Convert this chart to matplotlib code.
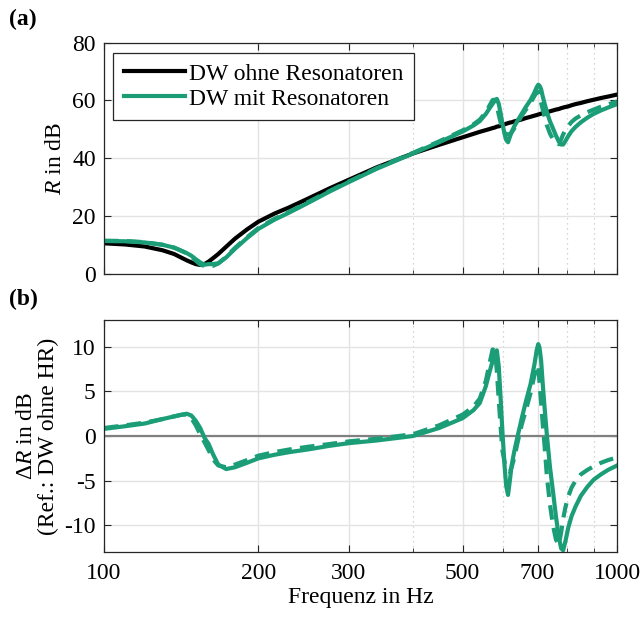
import numpy as np
import matplotlib
matplotlib.use("Agg")
import matplotlib.pyplot as plt
from matplotlib.ticker import FixedLocator, NullFormatter

plt.rcParams['font.family'] = ['Liberation Serif', 'DejaVu Serif']
plt.rcParams['mathtext.fontset'] = 'custom'
plt.rcParams['mathtext.rm'] = 'Liberation Serif'
plt.rcParams['mathtext.it'] = 'Liberation Serif:italic'
plt.rcParams['axes.unicode_minus'] = False

# frequency grid (Hz)
freq = [100, 110, 120, 130, 137, 142, 145, 148, 151, 154, 157, 160, 163, 167, 173, 180,
        190, 200, 215, 230, 250, 275, 300, 340, 400, 450, 500, 525, 540, 555, 565, 572,
        578, 583, 588, 593, 598, 604, 608, 613, 618, 623, 630, 640, 652, 665, 678, 690,
        697, 702, 706, 711, 716, 722, 730, 740, 750, 760, 770, 778, 785, 793, 803, 815,
        830, 850, 875, 900, 930, 960, 1000]

# R of the double wall without resonators (dB)
r_ohne = [10.5, 10.1, 9.4, 8.1, 6.8, 5.4, 4.6, 3.9, 3.3, 3.0, 3.3, 4.2, 5.3, 6.8, 9.3, 12.1,
          15.3, 18.0, 20.8, 23.0, 26.0, 29.5, 32.5, 36.8, 41.6, 44.6, 47.2, 48.4, 49.1, 49.7, 50.1, 50.4,
          50.6, 50.9, 51.0, 51.3, 51.5, 51.7, 51.9, 52.1, 52.3, 52.4, 52.7, 53.0, 53.4, 53.9, 54.3, 54.7,
          54.9, 55.1, 55.2, 55.4, 55.5, 55.7, 55.9, 56.2, 56.5, 56.8, 57.0, 57.3, 57.5, 57.7, 57.9, 58.3,
          58.7, 59.1, 59.7, 60.2, 60.8, 61.3, 62.0]

# Delta R with resonators, solid variant (dB)
dr_solid = [0.8, 1.1, 1.4, 1.9, 2.2, 2.4, 2.5, 2.3, 1.7, 0.9, -0.2, -0.9, -2.0, -3.2, -3.7, -3.5,
            -3.0, -2.5, -2.1, -1.8, -1.5, -1.1, -0.8, -0.5, 0.0, 0.9, 2.0, 2.9, 3.7, 5.6, 7.3, 8.4,
            9.3, 9.6, 7.8, 4.2, 0.3, -3.6, -5.6, -6.6, -5.0, -3.3, -1.8, 0.0, 2.0, 4.0, 5.8, 8.0,
            9.6, 10.3, 9.9, 8.5, 6.0, 3.3, 0.0, -3.5, -6.2, -9.0, -11.3, -12.6, -12.8, -11.8, -10.3, -9.0,
            -7.9, -6.7, -5.7, -4.9, -4.3, -3.8, -3.3]

# Delta R with resonators, dashed variant (dB)
dr_dashed = [0.9, 1.2, 1.5, 1.9, 2.2, 2.4, 2.4, 2.0, 1.2, 0.2, -0.7, -1.6, -2.6, -3.3, -3.5, -3.2,
             -2.7, -2.2, -1.8, -1.5, -1.2, -0.9, -0.6, -0.3, 0.2, 1.2, 2.4, 3.3, 4.2, 6.2, 8.3, 9.7,
             9.6, 7.3, 4.0, 1.0, -1.7, -3.0, -3.6, -3.9, -4.0, -3.5, -2.5, -0.7, 1.3, 3.0, 4.8, 6.8,
             7.8, 7.9, 6.0, 3.8, 1.5, -1.0, -4.6, -7.7, -10.0, -11.6, -12.2, -10.8, -9.3, -8.0, -6.8, -5.8,
             -5.0, -4.3, -3.8, -3.4, -3.0, -2.7, -2.4]

xticks = [100, 200, 300, 500, 700, 1000]
xminor = [400, 600, 800, 900]

f = np.array(freq)
r0 = np.array(r_ohne)
r_mit = r0 + np.array(dr_solid)
r_mit2 = r0 + np.array(dr_dashed)

green = '#1b9e77'
fs = 17

fig = plt.figure(figsize=(6.43, 6.17), dpi=100)
ax1 = fig.add_axes([0.1617, 0.5565, 0.798, 0.3745])
ax2 = fig.add_axes([0.1617, 0.1053, 0.798, 0.376])


def style(ax):
    ax.set_xscale('log')
    ax.set_xlim(100, 1000)
    ax.xaxis.set_major_locator(FixedLocator(xticks))
    ax.xaxis.set_minor_locator(FixedLocator(xminor))
    ax.xaxis.set_minor_formatter(NullFormatter())
    ax.grid(True, which='major', color='#e3e3e3', lw=1)
    ax.grid(True, which='minor', axis='x', color='#c8c8c8', lw=0.9, ls=(0, (1, 3)))
    ax.set_axisbelow(True)
    ax.tick_params(which='both', direction='in', top=True, right=True,
                   labelsize=fs, colors='#262626', labelcolor='black')
    ax.tick_params(which='major', length=5)
    ax.tick_params(which='minor', length=3)
    ax.tick_params(axis='y', pad=6)
    for s in ax.spines.values():
        s.set_color('#262626')
        s.set_linewidth(0.9)


style(ax1)
ax1.plot(f, r0, color='black', lw=3, label='DW ohne Resonatoren')
ax1.plot(f, r_mit2, color=green, lw=3, ls=(0, (3.5, 2)))
ax1.plot(f, r_mit, color=green, lw=3, label='DW mit Resonatoren')
ax1.set_ylim(0, 80)
ax1.set_yticks([0, 20, 40, 60, 80])
ax1.set_xticklabels([])
ax1.set_ylabel('$R$ in dB', fontsize=fs, labelpad=4)
leg = ax1.legend(loc='upper left', fontsize=fs, handlelength=2.6, handletextpad=0.15,
                 borderpad=0.45, labelspacing=0.15, fancybox=False, framealpha=1,
                 edgecolor='#262626', borderaxespad=0, bbox_to_anchor=(0.0175, 0.957))
leg.get_frame().set_linewidth(0.9)

style(ax2)
ax2.axhline(0, color='#808080', lw=1.6, zorder=1.5)
ax2.plot(f, dr_dashed, color=green, lw=3, ls=(0, (3.5, 2)))
ax2.plot(f, dr_solid, color=green, lw=3)
ax2.set_ylim(-13, 13)
ax2.set_yticks([-10, -5, 0, 5, 10])
ax2.set_xticklabels([str(t) for t in xticks])
ax2.tick_params(axis='x', pad=8)
ax2.set_ylabel('$\\Delta R$ in dB\n(Ref.: DW ohne HR)', fontsize=fs, linespacing=1.0, labelpad=4)
ax2.set_xlabel('Frequenz in Hz', fontsize=fs, labelpad=2)

fig.text(0.014, 0.968, '(a)', fontsize=fs, fontweight='bold', va='center')
fig.text(0.014, 0.515, '(b)', fontsize=fs, fontweight='bold', va='center')

fig.savefig('out.png', dpi=100)
